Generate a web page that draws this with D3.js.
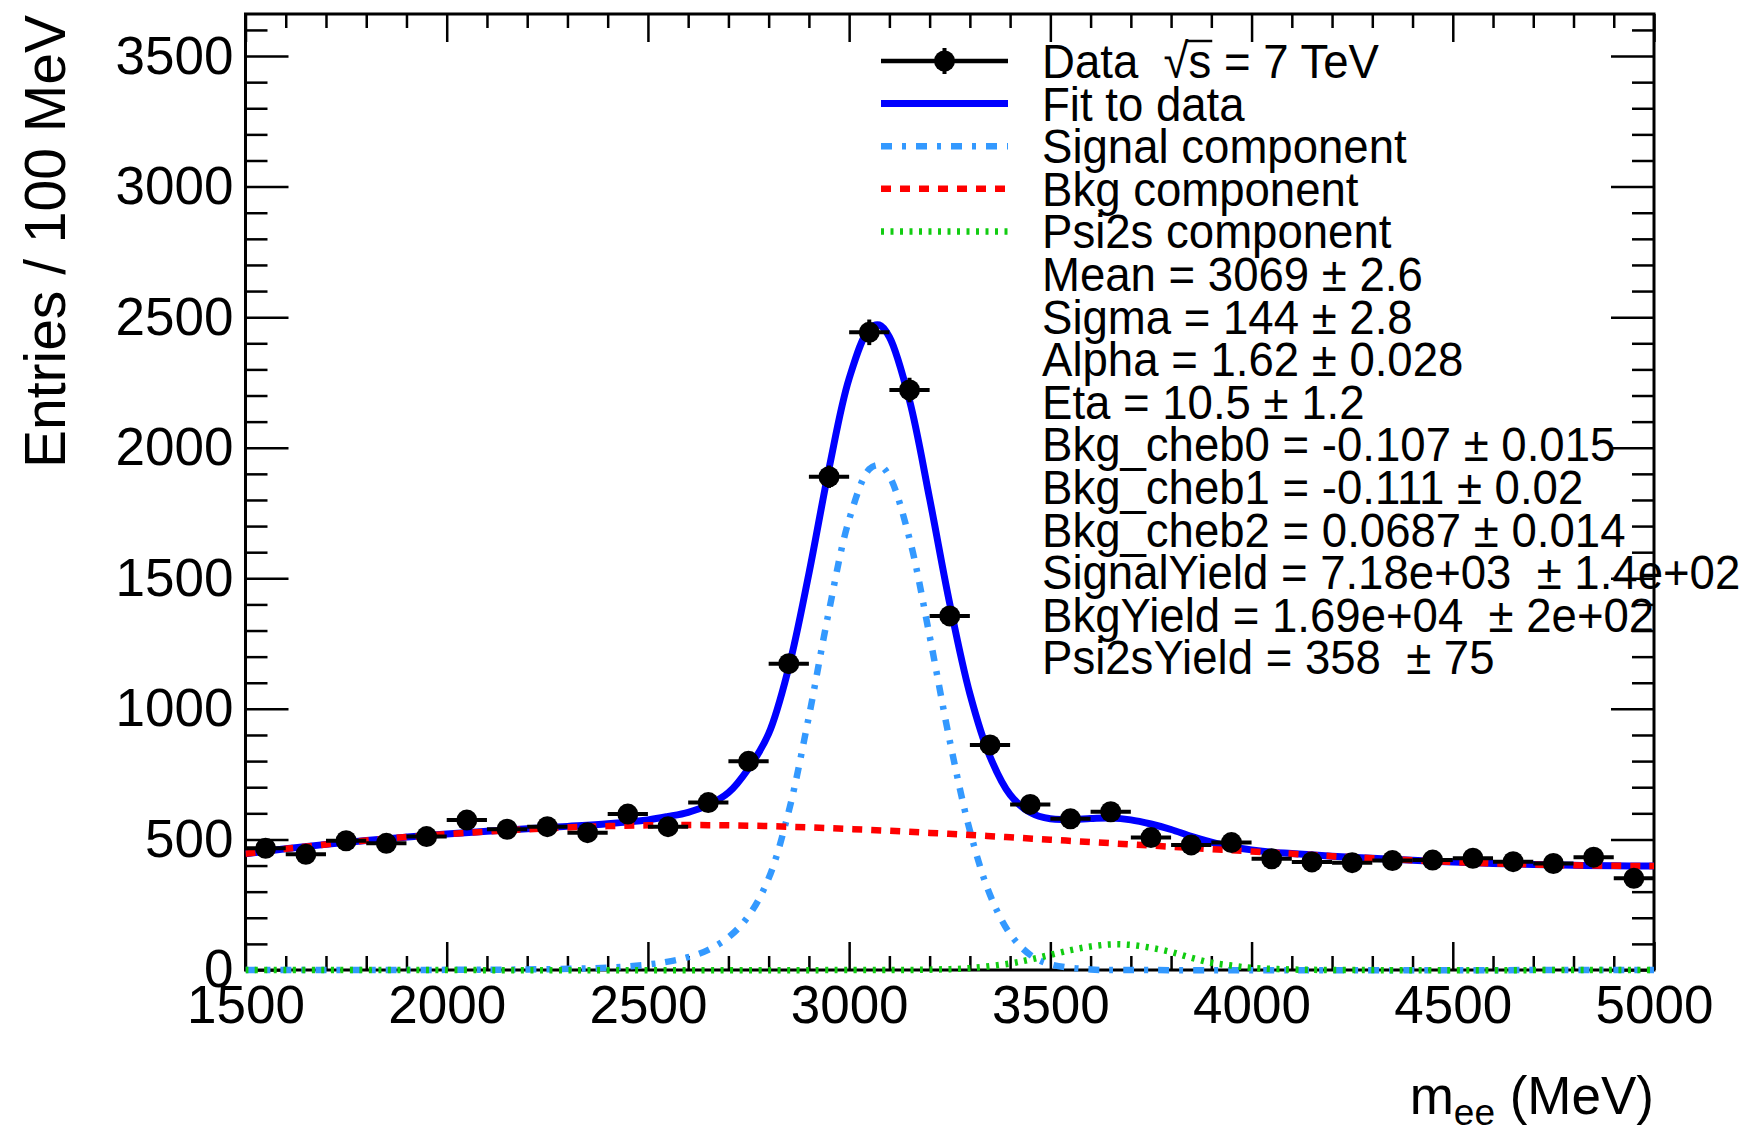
<!DOCTYPE html>
<html>
<head>
<meta charset="utf-8">
<script src="https://cdn.jsdelivr.net/npm/d3@7"></script>
<style>
  body { margin: 0; background: #fff; }
  text { font-family: "Liberation Sans", Arial, Helvetica, sans-serif; fill: #000; }
</style>
</head>
<body>
<svg id="chart"></svg>
<script>
// data histogram, 100 MeV bins
var binCenters = [1550, 1650, 1750, 1850, 1950, 2050, 2150, 2250, 2350, 2450,
  2550, 2650, 2750, 2850, 2950, 3050, 3150, 3250, 3350, 3450,
  3550, 3650, 3750, 3850, 3950, 4050, 4150, 4250, 4350, 4450,
  4550, 4650, 4750, 4850, 4950];
var entries = [466, 443, 495, 485, 511, 574, 539, 549, 526, 597,
  549, 641, 799, 1173, 1889, 2442, 2221, 1356, 862, 634,
  579, 606, 507, 479, 488, 426, 414, 411, 419, 421,
  428, 415, 408, 432, 351];
var entryErrors = [22, 21, 22, 22, 23, 24, 23, 23, 23, 24,
  23, 25, 28, 34, 43, 49, 47, 37, 29, 25,
  24, 25, 23, 22, 22, 21, 20, 20, 20, 21,
  21, 20, 20, 21, 19];

// fit curves
var fitMass = [1500, 1600, 1700, 1800, 1900, 2000, 2100, 2200, 2300, 2400, 2500, 2550,
  2600, 2650, 2700, 2750, 2800, 2850, 2900, 2950, 3000, 3050, 3075, 3100, 3150,
  3200, 3250, 3300, 3350, 3400, 3450, 3500, 3550, 3600, 3650, 3700, 3750, 3800,
  3850, 3900, 3950, 4000, 4050, 4100, 4200, 4300, 4400, 4500, 4600, 4700, 4800,
  4900, 5000];
var fitValues = [445, 464, 481, 496, 509, 521, 531, 541, 550, 560, 575, 588,
  604, 632, 679, 772, 905, 1159, 1518, 1920, 2265, 2455, 2470, 2424, 2181,
  1805, 1403, 1058, 817, 671, 603, 579, 577, 580, 582, 575, 559, 538,
  512, 490, 472, 460, 451, 446, 436, 428, 420, 414, 408, 404, 401,
  399, 398];

var signalMass = [1500, 2000, 2200, 2400, 2500, 2550, 2600, 2650, 2700, 2750, 2800,
  2850, 2900, 2950, 3000, 3050, 3075, 3100, 3150, 3200, 3250, 3300, 3350, 3400,
  3450, 3500, 3600, 3700, 5000];
var signalValues = [0, 0.5, 2, 9, 21, 32, 49, 77, 125, 207, 351,
  608, 971, 1376, 1725, 1918, 1933, 1891, 1652, 1279, 878, 534, 288, 138,
  58, 22, 2, 0, 0];

var bkgMass = [1500, 1600, 1700, 1800, 1900, 2000, 2100, 2200, 2300, 2400, 2500,
  2600, 2700, 2800, 2900, 3000, 3100, 3200, 3300, 3400, 3500, 3600, 3700, 3800,
  3900, 4000, 4100, 4200, 4300, 4400, 4500, 4600, 4700, 4800, 4900, 5000];
var bkgValues = [445, 464, 481, 496, 509, 520, 530, 539, 546, 551, 554,
  555, 554, 551, 546, 540, 533, 525, 517, 508, 499, 490, 481, 472,
  463, 454, 445, 436, 428, 420, 414, 408, 404, 401, 399, 398];

var psiMass = [1500, 3100, 3200, 3300, 3400, 3450, 3500, 3550, 3600, 3650, 3700,
  3750, 3800, 3850, 3900, 3950, 4000, 4100, 4200, 5000];
var psiValues = [0, 0, 1.4, 7, 25, 40, 58, 76, 90, 98, 96,
  85, 69, 47, 28, 17, 8, 2, 0, 0];

var xTicks = [1500, 2000, 2500, 3000, 3500, 4000, 4500, 5000];
var yTicks = [0, 500, 1000, 1500, 2000, 2500, 3000, 3500];

var legendLabels = ["Data", "Fit to data", "Signal component", "Bkg component", "Psi2s component"];
var paramLabels = [
  "Mean = 3069 \u00b1 2.6",
  "Sigma = 144 \u00b1 2.8",
  "Alpha = 1.62 \u00b1 0.028",
  "Eta = 10.5 \u00b1 1.2",
  "Bkg_cheb0 = -0.107 \u00b1 0.015",
  "Bkg_cheb1 = -0.111 \u00b1 0.02",
  "Bkg_cheb2 = 0.0687 \u00b1 0.014",
  "SignalYield = 7.18e+03  \u00b1 1.4e+02",
  "BkgYield = 1.69e+04  \u00b1 2e+02",
  "Psi2sYield = 358  \u00b1 75"
];

var width = 1742, height = 1133;
var plotLeft = 245.5, plotRight = 1654, plotTop = 14, plotBottom = 970;

var svg = d3.select("#chart").attr("width", width).attr("height", height);

var x = d3.scaleLinear().domain([1500, 5000]).range([plotLeft, plotRight]);
var y = d3.scaleLinear().domain([0, 3661]).range([plotBottom, plotTop]);

var xMinor = d3.range(1500, 5001, 100).filter(function (d) { return d % 500 != 0; });
var yMinor = d3.range(0, 3661, 100).filter(function (d) { return d % 500 != 0; });

function tidy(g) {
  g.select(".domain").remove();
  g.selectAll(".tick line").attr("stroke", "#000").attr("stroke-width", 2.5);
  g.selectAll(".tick text").attr("font-size", "53px").attr("fill", "#000")
    .style("font-family", '"Liberation Sans", Arial, Helvetica, sans-serif');
}

// bottom axis
svg.append("g").attr("transform", "translate(0," + plotBottom + ")")
  .call(d3.axisBottom(x).tickValues(xTicks).tickSizeInner(-28).tickSizeOuter(0)
    .tickPadding(15).tickFormat(d3.format("d")))
  .call(tidy);
svg.append("g").attr("transform", "translate(0," + plotBottom + ")")
  .call(d3.axisBottom(x).tickValues(xMinor).tickSizeInner(-14).tickSizeOuter(0).tickFormat(""))
  .call(tidy);
// top axis
svg.append("g").attr("transform", "translate(0," + plotTop + ")")
  .call(d3.axisTop(x).tickValues(xTicks).tickSizeInner(-28).tickSizeOuter(0).tickFormat(""))
  .call(tidy);
svg.append("g").attr("transform", "translate(0," + plotTop + ")")
  .call(d3.axisTop(x).tickValues(xMinor).tickSizeInner(-14).tickSizeOuter(0).tickFormat(""))
  .call(tidy);
// left axis
svg.append("g").attr("transform", "translate(" + plotLeft + ",0)")
  .call(d3.axisLeft(y).tickValues(yTicks).tickSizeInner(-43).tickSizeOuter(0)
    .tickPadding(12).tickFormat(d3.format("d")))
  .call(tidy);
svg.append("g").attr("transform", "translate(" + plotLeft + ",0)")
  .call(d3.axisLeft(y).tickValues(yMinor).tickSizeInner(-22).tickSizeOuter(0).tickFormat(""))
  .call(tidy);
// right axis
svg.append("g").attr("transform", "translate(" + plotRight + ",0)")
  .call(d3.axisRight(y).tickValues(yTicks).tickSizeInner(-43).tickSizeOuter(0).tickFormat(""))
  .call(tidy);
svg.append("g").attr("transform", "translate(" + plotRight + ",0)")
  .call(d3.axisRight(y).tickValues(yMinor).tickSizeInner(-22).tickSizeOuter(0).tickFormat(""))
  .call(tidy);

// frame
svg.append("rect")
  .attr("x", plotLeft).attr("y", plotTop)
  .attr("width", plotRight - plotLeft).attr("height", plotBottom - plotTop)
  .attr("fill", "none").attr("stroke", "#000").attr("stroke-width", 3);

// axis titles
svg.append("text")
  .attr("transform", "translate(65," + 15 + ") rotate(-90)")
  .attr("text-anchor", "end")
  .attr("font-size", "57px")
  .text("Entries / 100 MeV");

var xTitle = svg.append("text")
  .attr("x", plotRight).attr("y", 1114)
  .attr("text-anchor", "end")
  .attr("font-size", "53px");
xTitle.append("tspan").text("m");
xTitle.append("tspan").attr("font-size", "37px").attr("dy", 11).text("ee");
xTitle.append("tspan").attr("dy", -11).style("white-space", "pre").text(" (MeV)");

// curves
svg.append("clipPath").attr("id", "plotClip").append("rect")
  .attr("x", plotLeft).attr("y", plotTop - 4)
  .attr("width", plotRight - plotLeft).attr("height", plotBottom - plotTop + 8);

var curveGroup = svg.append("g").attr("clip-path", "url(#plotClip)");

function drawCurve(mass, values, color, widthPx, dash) {
  var pts = mass.map(function (m, i) { return [m, values[i]]; });
  var line = d3.line()
    .x(function (d) { return x(d[0]); })
    .y(function (d) { return y(d[1]); })
    .curve(d3.curveCatmullRom.alpha(0.5));
  curveGroup.append("path")
    .datum(pts)
    .attr("d", line)
    .attr("fill", "none")
    .attr("stroke", color)
    .attr("stroke-width", widthPx)
    .attr("stroke-dasharray", dash);
}

drawCurve(fitMass, fitValues, "#0000ff", 7, null);
drawCurve(signalMass, signalValues, "#3399ff", 6.5, "11,10,4,10");
drawCurve(psiMass, psiValues, "#11cc11", 6.5, "3,6.5");
drawCurve(bkgMass, bkgValues, "#ff0000", 6.5, "10,9");

// data points
var pts = svg.append("g");
binCenters.forEach(function (c, i) {
  var v = entries[i], e = entryErrors[i];
  pts.append("line")
    .attr("x1", x(c - 50)).attr("x2", x(c + 50))
    .attr("y1", y(v)).attr("y2", y(v))
    .attr("stroke", "#000").attr("stroke-width", 4);
  pts.append("line")
    .attr("x1", x(c)).attr("x2", x(c))
    .attr("y1", y(v - e)).attr("y2", y(v + e))
    .attr("stroke", "#000").attr("stroke-width", 4);
  pts.append("circle")
    .attr("cx", x(c)).attr("cy", y(v)).attr("r", 10.5)
    .attr("fill", "#000");
});

// legend
var legendX1 = 881, legendX2 = 1008, textX = 1042;
var rowStep = 42.6, firstRow = 61;
var styles = [
  { color: "#000", w: 4.5, dash: null },
  { color: "#0000ff", w: 7, dash: null },
  { color: "#3399ff", w: 6.5, dash: "11,10,4,10" },
  { color: "#ff0000", w: 6.5, dash: "10,9" },
  { color: "#11cc11", w: 6.5, dash: "3,6.5" }
];
var legend = svg.append("g");
legendLabels.forEach(function (lab, i) {
  var cy = firstRow + i * rowStep;
  var s = styles[i];
  legend.append("line")
    .attr("x1", legendX1).attr("x2", legendX2).attr("y1", cy).attr("y2", cy)
    .attr("stroke", s.color).attr("stroke-width", s.w)
    .attr("stroke-dasharray", s.dash);
  if (i == 0) {
    var mx = (legendX1 + legendX2) / 2;
    legend.append("line").attr("x1", mx).attr("x2", mx)
      .attr("y1", cy - 13).attr("y2", cy + 13)
      .attr("stroke", "#000").attr("stroke-width", 4);
    legend.append("circle").attr("cx", mx).attr("cy", cy).attr("r", 10.5).attr("fill", "#000");
  }
  var tg = legend.append("g")
    .attr("transform", "translate(" + textX + "," + (cy + 17) + ") scale(0.93,1)");
  var t = tg.append("text").attr("x", 0).attr("y", 0)
    .attr("font-size", "49px").style("white-space", "pre");
  if (i == 0) {
    t.append("tspan").text(lab + "  \u221a");
    t.append("tspan").text("s");
    t.append("tspan").text(" = 7 TeV");
    var node = t.node();
    var start = node.getSubStringLength(0, lab.length + 3);
    var sw = node.getSubStringLength(lab.length + 3, 1);
    tg.append("line")
      .attr("x1", start - 2).attr("x2", start + sw + 1)
      .attr("y1", -37).attr("y2", -37)
      .attr("stroke", "#000").attr("stroke-width", 2.5);
  } else {
    t.text(lab);
  }
});

paramLabels.forEach(function (lab, i) {
  var cy = firstRow + (i + legendLabels.length) * rowStep;
  legend.append("g")
    .attr("transform", "translate(" + textX + "," + (cy + 17) + ") scale(0.93,1)")
    .append("text")
    .attr("font-size", "49px")
    .style("white-space", "pre")
    .text(lab);
});
</script>
</body>
</html>
